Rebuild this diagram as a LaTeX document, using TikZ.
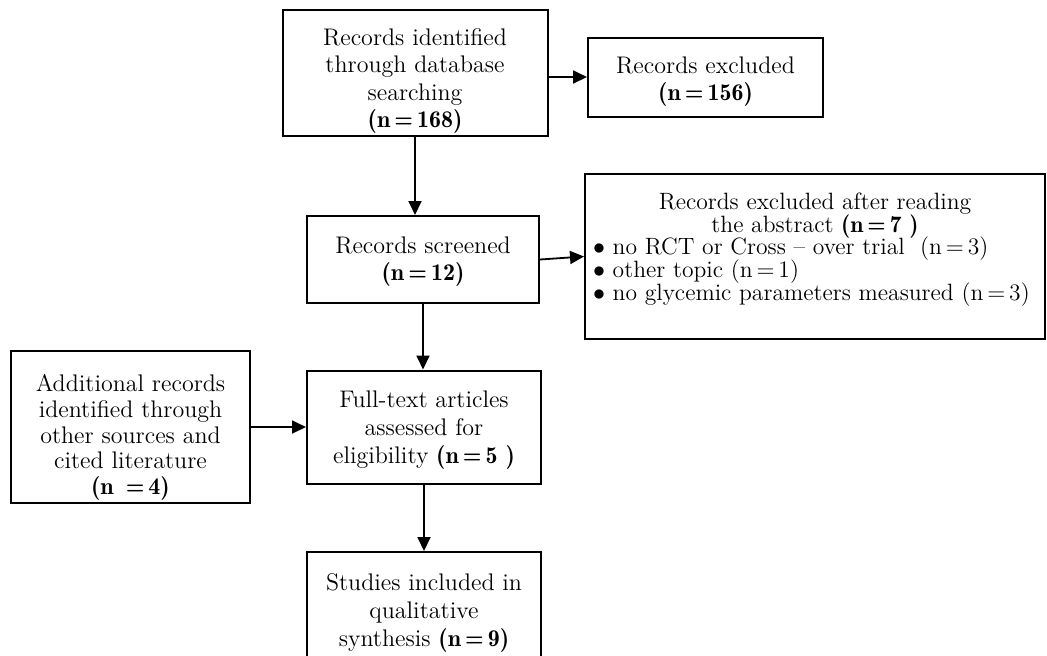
\documentclass[tikz,border=0pt]{standalone}
\usepackage{amssymb}
\usepackage{tikz}
\usetikzlibrary{arrows.meta}
\renewcommand{\bfdefault}{b}

\begin{document}
\begin{tikzpicture}[x=0.5pt, y=-0.5pt,
  box/.style={draw, line width=1pt, align=center, inner sep=1pt, font=\fontsize{12}{13.8}\selectfont},
  arr/.style={line width=0.9pt, -{Triangle[length=7pt, width=6.5pt]}}]
%\draw [help lines, step=10](0,0) grid (1047,655);
\useasboundingbox (0,0) rectangle (1047,655);
\clip (0,0) rectangle (1047,655);

\node [box, minimum width=132.5pt, minimum height=62pt] (ident) at (415,73)
  {\rule{0pt}{16.5pt}Records identified\\ through database\\ searching\\ \textbf{(n\,=\,168)}};
\node [box, minimum width=117.5pt, minimum height=39.5pt] (excl) at (705.5,77)
  {\rule{0pt}{13pt}Records excluded\\ \textbf{(n\,=\,156)}};
\node [box, minimum width=116pt, minimum height=43.5pt] (screen) at (423,259.5)
  {\rule{0pt}{10.5pt}Records screened\\ \textbf{(n\,=\,12)}};
\node [box, minimum width=230pt, minimum height=82.5pt,
       font={\fontsize{11.8}{11.3}\selectfont\lineskiplimit-20pt\relax}] (exclabs) at (815,256.5)
  {Records excluded after reading\\ the abstract \textbf{(n\,=\,7 )}\\
   \makebox[222pt][l]{$\bullet$ no RCT or Cross \textendash\ over trial \ (n\,=\,3)}\\
   \makebox[222pt][l]{$\bullet$ other topic (n\,=\,1)}\\
   \makebox[222pt][l]{$\bullet$ no glycemic parameters measured (n\,=\,3)}\rule[-10pt]{0pt}{10pt}};
\node [box, minimum width=119.5pt, minimum height=76pt, font=\fontsize{12}{12.8}\selectfont] (extra) at (130.5,427)
  {\rule{0pt}{19pt}Additional records\\ identified through\\ other sources and\\ cited literature\\ \textbf{(n \,=\,4)}};
\node [box, minimum width=117pt, minimum height=56.5pt] (fulltext) at (424,427)
  {\rule{0pt}{11.5pt}Full-text articles\\ assessed for\\ eligibility \textbf{(n\,=\,5 )}};
\node [box, minimum width=117pt, minimum height=61pt] (incl) at (424,613)
  {Studies included in\\ qualitative\\ synthesis \textbf{(n\,=\,9)}};

\draw [arr] (ident.east |- excl.west) -- (excl.west);
\draw [arr] (ident.south) -- (ident.south |- screen.north);
\draw [arr] (screen.east) -- (exclabs.west);
\draw [arr] (screen.south) -- (screen.south |- fulltext.north);
\draw [arr] (extra.east) -- (extra.east -| fulltext.west);
\draw [arr] (fulltext.south) -- (fulltext.south |- incl.north);
\end{tikzpicture}
\end{document}
